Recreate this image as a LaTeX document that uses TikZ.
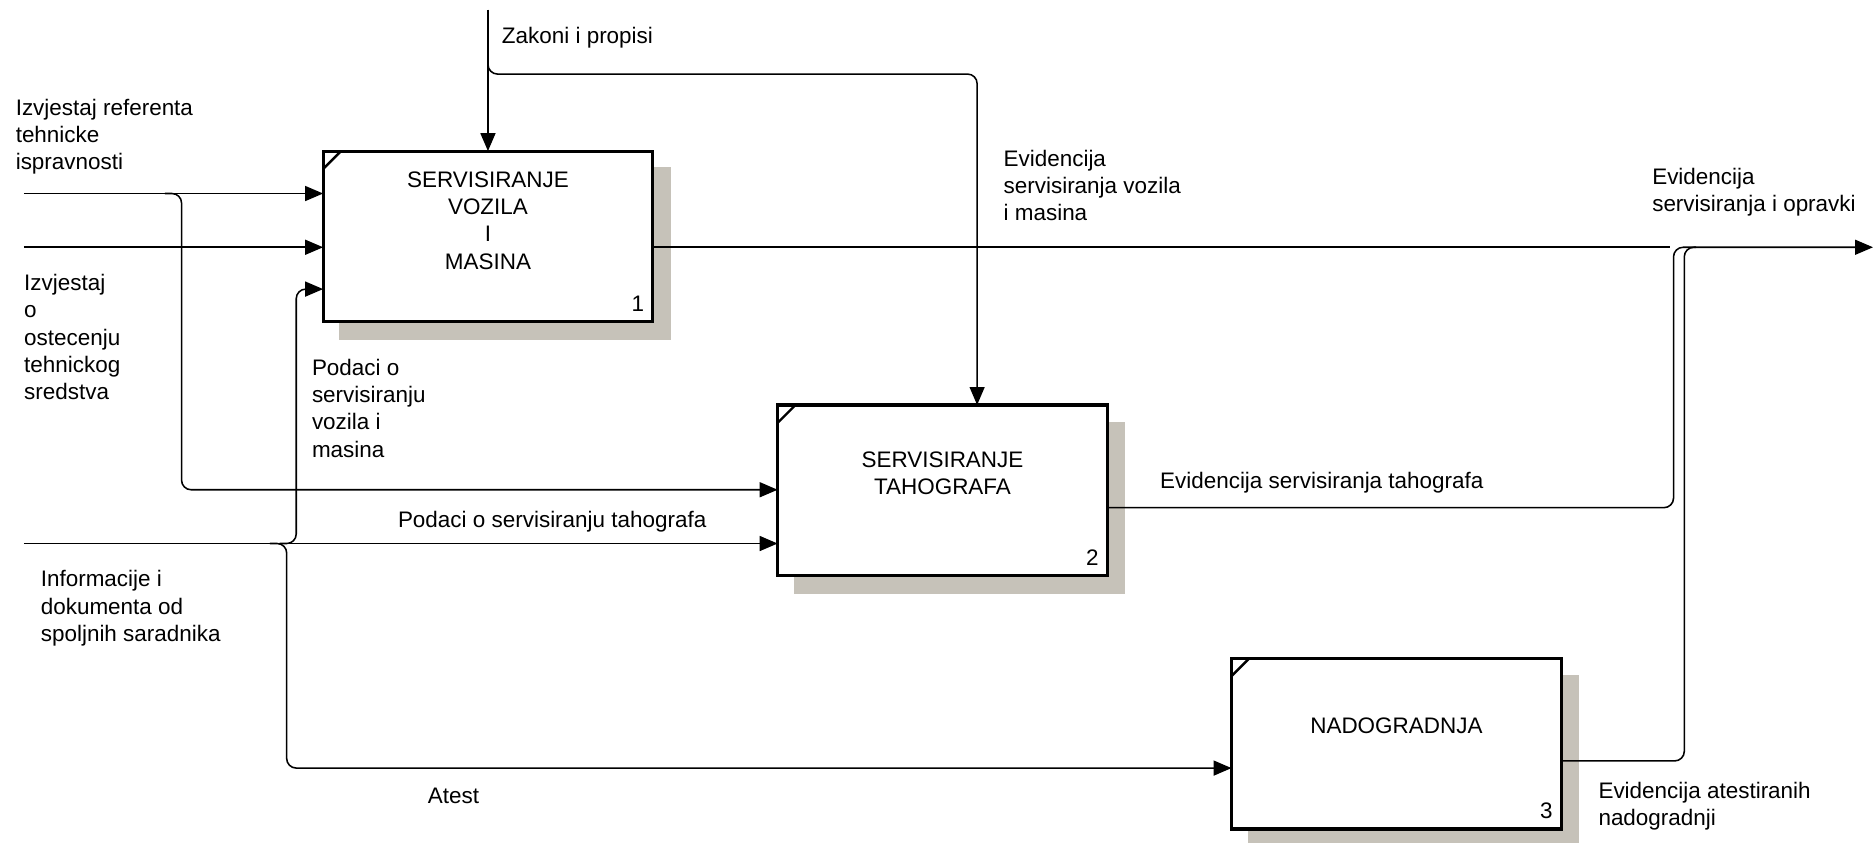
\documentclass[tikz,border=0pt]{standalone}
\usepackage{fontspec}
\setmainfont{Liberation Sans}
\usetikzlibrary{arrows.meta,calc}
\definecolor{shadowgray}{RGB}{198,194,185}
\begin{document}
\begin{tikzpicture}[x=1pt,y=-1pt,
  lbl/.style={font=\fontsize{18.8}{22.8}\selectfont, inner sep=0pt, anchor=north west, align=left},
  btxt/.style={font=\fontsize{18.8}{22.8}\selectfont, inner sep=0pt, anchor=north, align=center},
  num/.style={font=\fontsize{18.8}{22.8}\selectfont, inner sep=0pt, anchor=base east},
  proc/.style={draw, line width=2.6pt, fill=white, minimum width=276pt, minimum height=143pt, inner sep=0pt, outer sep=0pt},
  conn/.style={line width=1.3pt},
  arr/.style={conn, -{Triangle[length=15pt,width=12.5pt]}},
  rc/.style={rounded corners=8pt},
  cornermark/.style={line width=2pt}]
\useasboundingbox (0,0) rectangle (1568,705);
% shadows
\fill[shadowgray] (284,140) rectangle (562,285);
\fill[shadowgray] (665,353) rectangle (942,497);
\fill[shadowgray] (1045,565) rectangle (1322,710);
% boxes
\node[proc] (b1) at (408.5,198) {};
\node[proc] (b2) at (789,410.5) {};
\node[proc] (b3) at (1169,622.5) {};
\foreach \b in {b1,b2,b3}{
  \draw[cornermark] ($(\b.north west)+(0,15)$) -- ($(\b.north west)+(15,0)$);
}
\node[btxt] (t1) at ($(b1.north)+(0,17)$) {SERVISIRANJE\\VOZILA\\I\\MASINA};
\node[btxt] (t2) at ($(b2.north)+(0,39)$) {SERVISIRANJE\\TAHOGRAFA};
\node[btxt] (t3) at ($(b3.north)+(0,50)$) {NADOGRADNJA};
\node[num] (n1) at ($(b1.south east)+(-7,-9)$) {1};
\node[num] (n2) at ($(b2.south east)+(-7,-9)$) {2};
\node[num] (n3) at ($(b3.south east)+(-7,-9)$) {3};
% control
\coordinate (zt) at (408.5,8);
\coordinate (zb) at (408.5,46);
\coordinate (zc) at (818,62);
\draw[arr] (zt) -- (b1.north);
\draw[arr,rc] (zb) |- (zc) -- (zc |- b2.north);
% inputs
\coordinate (i1) at (20,162);
\coordinate (i1a) at (138,162);
\coordinate (i1b) at (152,410);
\draw[arr] (i1) -- (i1 -| b1.west);
\draw[arr,rc] (i1a) -| (i1b) -- (i1b -| b2.west);
\coordinate (i2) at (20,207);
\draw[arr] (i2) -- (i2 -| b1.west);
\coordinate (i3) at (20,455);
\coordinate (j3) at (234,455);
\coordinate (k3) at (248,242);
\coordinate (j3a) at (226,455);
\coordinate (d3) at (240,643);
\draw[arr] (i3) -- (i3 -| b2.west);
\draw[arr,rc] (j3) -| (k3) -- (k3 -| b1.west);
\draw[arr,rc] (j3a) -| (d3) -- (d3 -| b3.west);
% outputs
\coordinate (o1) at (1398,207);
\coordinate (o2) at (1401,425);
\coordinate (m) at (1420,207);
\coordinate (o3) at (1410,637);
\coordinate (oe) at (1568,207);
\draw[conn] (o1 -| b1.east) -- (o1);
\draw[conn,rc] (o2 -| b2.east) -- (o2) |- (m);
\draw[arr,rc] (o3 -| b3.east) -- (o3) |- (oe);
% labels
\node[lbl] (l1) at (420,22.5) {Zakoni i propisi};
\node[lbl] (l2) at (13,82.5) {Izvjestaj referenta\\tehnicke\\ispravnosti};
\node[lbl] (l3) at (20,229.5) {Izvjestaj\\o\\ostecenju\\tehnickog\\sredstva};
\node[lbl] (l4) at (261,300.5) {Podaci o\\servisiranju\\vozila i\\masina};
\node[lbl] (l5) at (840,125.5) {Evidencija\\servisiranja vozila\\i masina};
\node[lbl] (l6) at (1383,140.5) {Evidencija\\servisiranja i opravki};
\node[lbl] (l7) at (971,395.5) {Evidencija servisiranja tahografa};
\node[lbl] (l8) at (333,427.5) {Podaci o servisiranju tahografa};
\node[lbl] (l9) at (34,477.5) {Informacije i\\dokumenta od\\spoljnih saradnika};
\node[lbl] (l10) at (358,659.5) {Atest};
\node[lbl] (l11) at (1338,654.5) {Evidencija atestiranih\\nadogradnji};
\end{tikzpicture}
\end{document}
